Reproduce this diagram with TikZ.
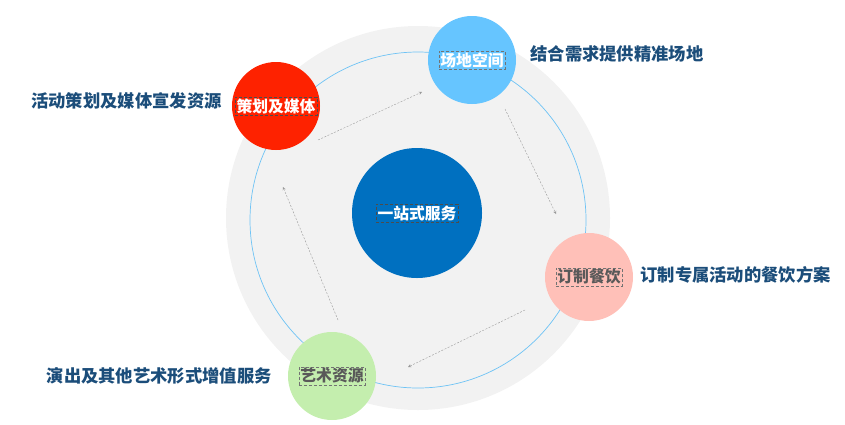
\documentclass[tikz,border=0pt]{standalone}
\usepackage{fontspec}
\newfontfamily\cjk{Noto Sans CJK SC}
\usetikzlibrary{positioning}

\definecolor{ringgray}{HTML}{F2F2F2}
\definecolor{orbitblue}{HTML}{6EC3F5}
\definecolor{hubblue}{HTML}{0070C0}
\definecolor{mediared}{HTML}{FE2200}
\definecolor{venueblue}{HTML}{66C5FF}
\definecolor{cateringpink}{HTML}{FFC0B8}
\definecolor{artsgreen}{HTML}{C4EEAE}
\definecolor{notetext}{HTML}{1B4D7A}
\definecolor{tagdark}{HTML}{595959}

\begin{document}
\begin{tikzpicture}[x=1pt,y=-1pt,
    disc/.style={circle, minimum size=88pt, inner sep=0pt},
    tag/.style={draw=black!55, dash pattern=on 3pt off 2pt, line width=0.6pt, inner sep=1.5pt, font=\cjk\bfseries\fontsize{15.8}{16}\selectfont},
    note/.style={inner sep=0pt, text=notetext, font=\cjk\bfseries\fontsize{17.3}{18}\selectfont},
    flow/.style={draw=black!40, dash pattern=on 2pt off 1.5pt, ->, >=stealth}]
    \useasboundingbox (0,0) rectangle (845,424);

    % rings
    \fill[ringgray] (418,218) circle (192);
    \draw[orbitblue, line width=0.7pt] (418,220) circle (168);

    % hub
    \node[disc, minimum size=130pt, fill=hubblue] (hub) at (417,213) {};
    \node[tag, text=white, draw=black!70] (hubTag) at (hub) {一站式服务};

    % outer discs
    \node[disc, fill=mediared] (media) at (276,106) {};
    \node[tag, text=white, draw=black!70] (mediaTag) at (media) {策划及媒体};
    \node[disc, fill=venueblue] (venue) at (472,60) {};
    \node[tag, text=white] (venueTag) at (venue) {场地空间};
    \node[disc, fill=cateringpink] (catering) at (589,277) {};
    \node[tag, text=tagdark] (cateringTag) at (catering) {订制餐饮};
    \node[disc, fill=artsgreen] (arts) at (332,376) {};
    \node[tag, text=tagdark] (artsTag) at (arts) {艺术资源};

    % side notes
    \node[note, left=10pt of media, yshift=5pt] (mediaNote) {活动策划及媒体宣发资源};
    \node[note, right=14pt of venue, yshift=6pt] (venueNote) {结合需求提供精准场地};
    \node[note, right=7pt of catering, yshift=2.5pt] (cateringNote) {订制专属活动的餐饮方案};
    \node[note, left=16pt of arts, yshift=0.5pt] (artsNote) {演出及其他艺术形式增值服务};

    % flow arrows
    \coordinate (f1a) at (318,140); \coordinate (f1b) at (422,92);
    \coordinate (f2a) at (505,109); \coordinate (f2b) at (556,214);
    \coordinate (f3a) at (525,310); \coordinate (f3b) at (408,367);
    \coordinate (f4a) at (338,320); \coordinate (f4b) at (283,187);
    \draw[flow] (f1a) -- (f1b);
    \draw[flow] (f2a) -- (f2b);
    \draw[flow] (f3a) -- (f3b);
    \draw[flow] (f4a) -- (f4b);
\end{tikzpicture}
\end{document}
